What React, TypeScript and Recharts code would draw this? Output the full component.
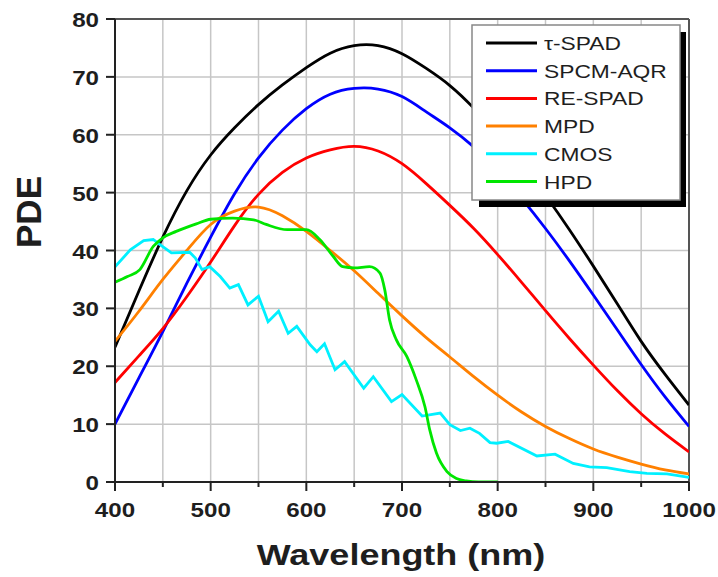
import { LineChart, Line, XAxis, YAxis, CartesianGrid, ReferenceLine } from "recharts";

// wavelength grid for the smooth detector curves
const wl = [400, 425, 450, 475, 500, 525, 550, 575, 600, 625, 650, 675, 700, 725, 750, 775, 800, 825, 850, 875, 900, 925, 950, 975, 1000];
const tauSpad = [23.3, 33, 42.3, 50.3, 56.5, 61.2, 65.2, 68.6, 71.6, 74.1, 75.4, 75.4, 74, 71.5, 68.5, 64.6, 60, 55, 49.5, 43.6, 37.3, 30.8, 24.3, 18.6, 13.3];
const spcmAqr = [10, 18, 26, 34.3, 42.3, 49.8, 56, 60.8, 64.5, 67, 68, 67.9, 66.6, 64, 61.2, 57.9, 53.8, 49, 43.8, 38.2, 32.3, 26.3, 20.3, 14.7, 9.6];
const reSpad = [17.2, 21.8, 26.5, 32, 38, 44.3, 49.7, 53.5, 56, 57.4, 58, 57.2, 55, 51.6, 47.8, 43.8, 39.3, 34.5, 29.6, 24.8, 20.2, 15.8, 11.8, 8.3, 5.2];
const mpd = [24.3, 29.5, 35, 40, 44.5, 46.8, 47.5, 46, 43.3, 40, 36.5, 32.6, 28.7, 25, 21.6, 18.2, 15, 12.1, 9.6, 7.5, 5.7, 4.3, 3.1, 2.1, 1.4];

const cmosWl = [400, 416, 430, 440, 447, 459, 478, 484, 491, 499, 510, 520, 529, 539, 550, 560, 571, 581, 590, 604, 611, 619, 630, 640, 660, 670, 689, 700, 721, 740, 750, 761, 771, 781, 792, 799, 811, 841, 860, 879, 896, 914, 938, 956, 977, 1000];
const cmos = [37.2, 40.1, 41.7, 41.9, 41, 39.6, 39.7, 38.7, 36.7, 37.2, 35.5, 33.5, 34.1, 30.6, 32.1, 27.7, 29.5, 25.7, 26.9, 23.7, 22.5, 23.9, 19.4, 20.8, 16.2, 18.2, 13.9, 15.1, 11.4, 11.9, 9.9, 8.9, 9.3, 8.4, 6.8, 6.7, 7, 4.5, 4.8, 3.2, 2.6, 2.5, 1.8, 1.5, 1.4, 0.8];

const hpdWl = [400, 413, 426, 440, 450, 464, 485, 500, 523, 545, 558, 580, 600, 614, 628, 638, 650, 666, 677, 682, 687, 694, 705, 715, 724, 729, 736, 747, 757, 767, 780, 800];
const hpd = [34.5, 35.5, 36.7, 40.7, 42.2, 43.3, 44.6, 45.4, 45.6, 45.3, 44.5, 43.6, 43.6, 41.9, 39, 37.2, 37, 37.2, 36.1, 33.2, 28, 24.6, 21.7, 17.6, 13, 9, 5, 1.8, 0.6, 0.2, 0, 0];

const xTicks = [400, 450, 500, 550, 600, 650, 700, 750, 800, 850, 900, 950, 1000];
const yTicks = [0, 10, 20, 30, 40, 50, 60, 70, 80];

const toPoints = (xs: number[], ys: number[]) => xs.map((x, i) => ({ x, y: ys[i] }));

const series = [
  { name: "τ-SPAD", color: "#000000", data: toPoints(wl, tauSpad), type: "natural" },
  { name: "SPCM-AQR", color: "#0000ff", data: toPoints(wl, spcmAqr), type: "natural" },
  { name: "RE-SPAD", color: "#ff0000", data: toPoints(wl, reSpad), type: "natural" },
  { name: "MPD", color: "#ff8000", data: toPoints(wl, mpd), type: "natural" },
  { name: "CMOS", color: "#00f0ff", data: toPoints(cmosWl, cmos), type: "linear" },
  { name: "HPD", color: "#00e600", data: toPoints(hpdWl, hpd), type: "monotone" },
];

const font = "'Liberation Sans', Arial, sans-serif";
const ink = "#1e1e1e";

const XTick = ({ x, y, payload }: any) => {
  const major = payload.value % 100 === 0;
  return (
    <g>
      <line x1={x} x2={x} y1={y} y2={y + (major ? 9 : 5)} stroke="#222" strokeWidth={2} />
      {major && (
        <text
          transform={`translate(${x},${y + 35}) scale(1.15,1)`}
          textAnchor="middle"
          fontFamily={font}
          fontWeight="bold"
          fontSize={21}
          fill={ink}
        >
          {payload.value}
        </text>
      )}
    </g>
  );
};

const YTick = ({ x, y, payload }: any) => (
  <g>
    <line x1={x - 9} x2={x} y1={y} y2={y} stroke="#222" strokeWidth={2} />
    <text
      transform={`translate(${x - 16},${y + 8}) scale(1.15,1)`}
      textAnchor="end"
      fontFamily={font}
      fontWeight="bold"
      fontSize={21}
      fill={ink}
    >
      {payload.value}
    </text>
  </g>
);

export default function App() {
  return (
    <div style={{ position: "absolute", left: 0, top: 0, width: 718, height: 577, background: "#fff" }}>
      <LineChart width={718} height={577} margin={{ top: 19, right: 29, left: 0, bottom: 0 }}>
        <CartesianGrid stroke="#c6c6c6" strokeWidth={1.5} />
        <XAxis
          dataKey="x"
          type="number"
          domain={[400, 1000]}
          ticks={xTicks}
          interval={0}
          height={95}
          tickSize={0}
          tickMargin={0}
          tickLine={false}
          tick={<XTick />}
          axisLine={{ stroke: "#222", strokeWidth: 2 }}
          allowDataOverflow
        />
        <YAxis
          type="number"
          domain={[0, 80]}
          ticks={yTicks}
          interval={0}
          width={115}
          tickSize={0}
          tickMargin={0}
          tickLine={false}
          tick={<YTick />}
          axisLine={{ stroke: "#222", strokeWidth: 2 }}
          allowDataOverflow
        />
        <ReferenceLine y={80} stroke="#555" strokeWidth={2} />
        <ReferenceLine x={1000} stroke="#555" strokeWidth={2} />
        {series.map((s) => (
          <Line
            key={s.name}
            data={s.data}
            dataKey="y"
            type={s.type as any}
            stroke={s.color}
            strokeWidth={2.8}
            dot={false}
            isAnimationActive={false}
          />
        ))}
      </LineChart>
      <svg width={718} height={577} style={{ position: "absolute", left: 0, top: 0, pointerEvents: "none" }}>
        <text
          transform="translate(401,565) scale(1.2,1)"
          textAnchor="middle"
          fontFamily={font}
          fontWeight="bold"
          fontSize={30}
          fill={ink}
        >
          Wavelength (nm)
        </text>
        <text
          transform="translate(41,212) rotate(-90)"
          textAnchor="middle"
          fontFamily={font}
          fontWeight="bold"
          fontSize={35}
          fill={ink}
        >
          PDE
        </text>
        <rect x={479} y={32} width={207} height={175} fill="#000" />
        <rect x={472} y={25} width={208} height={175} fill="#fff" stroke="#888" strokeWidth={1.5} />
        {series.map((s, i) => {
          const ly = 43 + i * 27.7;
          return (
            <g key={s.name}>
              <line x1={486} x2={537} y1={ly} y2={ly} stroke={s.color} strokeWidth={3} />
              <text
                transform={`translate(544,${ly + 7}) scale(1.2,1)`}
                fontFamily={font}
                fontSize={19}
                fill={ink}
              >
                {s.name}
              </text>
            </g>
          );
        })}
      </svg>
    </div>
  );
}
